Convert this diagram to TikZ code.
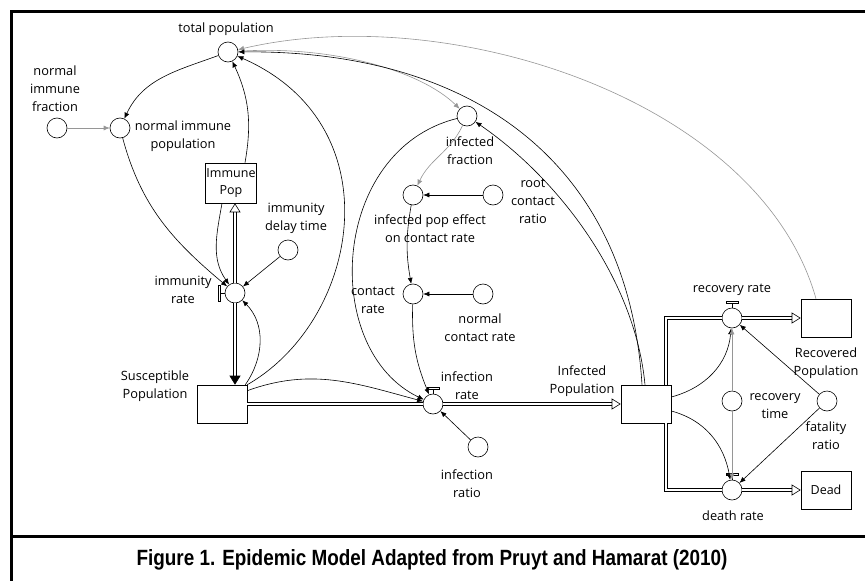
\documentclass[tikz,border=0pt]{standalone}
\usepackage{fontspec}
\setmainfont{Open Sans}
\newfontfamily\capfont{Liberation Sans}
\usetikzlibrary{arrows.meta,positioning}
\definecolor{LinkGray}{RGB}{150,150,150}
\tikzset{
  aux/.style={circle,draw,minimum size=20pt,inner sep=0pt,line width=.6pt},
  stock/.style={rectangle,draw,minimum width=50pt,minimum height=38pt,inner sep=1pt,line width=.6pt,align=center,font=\fontsize{12.5}{17}\selectfont},
  lbl/.style={align=center,inner sep=0pt,font=\fontsize{12.8}{18}\selectfont},
  link/.style={-{Latex[length=6pt,width=5pt]},line width=.6pt},
  glink/.style={link,LinkGray},
  flow/.style={draw,double,double distance=2pt,line width=.6pt},
  outflow/.style={flow,-{Triangle[open,length=9pt,width=11pt]}},
  valvebar/.style={fill=white,draw,line width=.5pt}
}
\begin{document}
\begin{tikzpicture}[x=1pt,y=-1pt]
\useasboundingbox (0,0) rectangle (865,581);
% frame and caption
\draw[line width=3pt] (11,581)--(11,11)--(865,11);
\draw[line width=3pt] (11,536.5)--(865,536.5);
\node (caption) at (432,560) {\scalebox{0.9}[1.05]{\capfont\bfseries\fontsize{21}{24}\selectfont Figure 1. Epidemic Model Adapted from Pruyt and Hamarat (2010)}};
% stocks
\node[stock,minimum width=46pt,minimum height=40pt] (immpop) at (231,183) {Immune\\Pop};
\node[stock] (susc) at (222,404) {};
\node[stock] (infpop) at (646,404) {};
\node[stock] (recpop) at (826,318) {};
\node[stock] (dead) at (826,490) {Dead};
% auxiliaries and rates
\node[aux] (totpop) at (228,52) {};
\node[aux] (nifrac) at (57,128) {};
\node[aux] (nipop) at (120,128) {};
\node[aux] (immrate) at (235,293) {};
\node[aux] (imdelay) at (288,250) {};
\node[aux] (infrate) at (433,404) {};
\node[aux] (infratio) at (478,447) {};
\node[aux] (inffrac) at (467,116) {};
\node[aux] (ipeffect) at (413,195) {};
\node[aux] (rootcr) at (493,195) {};
\node[aux] (contrate) at (413,294) {};
\node[aux] (normcr) at (483,294) {};
\node[aux] (recrate) at (732,318) {};
\node[aux] (rectime) at (732,401) {};
\node[aux] (fatal) at (827,401) {};
\node[aux] (deathrate) at (732,490) {};
% labels
\node[lbl] (l-totpop) at (226,29) {total population};
\node[lbl] (l-nifrac) at (55,89) {normal\\immune\\fraction};
\node[lbl] (l-nipop) at (183,136) {normal immune\\population};
\node[lbl] (l-immrate) at (183,290) {immunity\\rate};
\node[lbl] (l-imdelay) at (296,218) {immunity\\delay time};
\node[lbl] (l-susc) at (155,386) {Susceptible\\Population};
\node[lbl] (l-infrate) at (467,386) {infection\\rate};
\node[lbl] (l-infratio) at (467,484) {infection\\ratio};
\node[lbl] (l-infpop) at (582,381) {Infected\\Population};
\node[lbl] (l-inffrac) at (470,151) {infected\\fraction};
\node[lbl] (l-ipeffect) at (430,229) {infected pop effect\\on contact rate};
\node[lbl] (l-rootcr) at (533,201) {root\\contact\\ratio};
\node[lbl] (l-contrate) at (373,300) {contact\\rate};
\node[lbl] (l-normcr) at (480,328) {normal\\contact rate};
\node[lbl] (l-recrate) at (732,290) {recovery rate};
\node[lbl] (l-recpop) at (826,363) {Recovered\\Population};
\node[lbl] (l-rectime) at (775,406) {recovery\\time};
\node[lbl] (l-fatal) at (826,436) {fatality\\ratio};
\node[lbl] (l-deathrate) at (733,516) {death rate};
% flows
\draw[flow,-{Triangle[open,length=9pt,width=11pt]}] (immrate.north)--(immrate.north |- immpop.south);
\draw[flow,-{Triangle[length=9pt,width=11pt]}] (immrate.south)--(immrate.south |- susc.north);
\draw[flow] (susc)--(infrate);
\draw[outflow] (infrate)--(infpop);
\draw[flow] ([xshift=20pt]infpop.north) |- (recrate);
\draw[outflow] (recrate)--(recpop);
\draw[flow] ([xshift=20pt]infpop.south) |- (deathrate);
\draw[outflow] (deathrate)--(dead);
% valves
\foreach \r in {infrate,recrate,deathrate}{
  \draw[line width=.6pt] (\r.north)--([yshift=4pt]\r.north);
  \draw[valvebar] ([xshift=-6pt,yshift=4pt]\r.north) rectangle ([xshift=6pt,yshift=6.5pt]\r.north);}
\draw[line width=.6pt] (immrate.west)--([xshift=-4pt]immrate.west);
\draw[valvebar] ([xshift=-4pt,yshift=-8pt]immrate.west) rectangle ([xshift=-6.5pt,yshift=8pt]immrate.west);
% links
\draw[link] (totpop) to[out=200,in=65] (nipop);
\draw[glink] (nifrac)--(nipop);
\draw[link] (nipop) to[out=-75,in=140] (immrate);
\draw[link] ([xshift=14pt]immpop.north) to[out=80,in=-65] (totpop);
\draw[link] ([xshift=-9pt]immpop.south) to[out=-100,in=125] (immrate);
\draw[link] (imdelay)--(immrate);
\draw[link] ([xshift=-2pt]susc.north east) to[out=55,in=-45] (immrate);
\draw[link] (susc.north east) .. controls (360,320) and (395,125) .. (totpop);
\draw[link] ([yshift=-6pt]susc.north east) to[out=20,in=165] (infrate);
\draw[glink] (totpop) .. controls (330,45) and (420,70) .. (inffrac);
\draw[glink] ([xshift=-10pt]recpop.north) .. controls (760,100) and (450,0) .. (totpop);
\draw[link] ([xshift=-4pt]infpop.north) .. controls (628,160) and (470,50) .. (totpop);
\draw[link] ([xshift=-1pt]infpop.north) .. controls (635,280) and (560,180) .. (inffrac);
\draw[glink] (inffrac) to[out=-115,in=65] (ipeffect);
\draw[link] (rootcr)--(ipeffect);
\draw[link] (ipeffect) to[bend right=10] (contrate);
\draw[link] (normcr)--(contrate);
\draw[link] (contrate) to[bend right=12] (infrate);
\draw[link] (inffrac) .. controls (330,150) and (320,350) .. (infrate);
\draw[link] (infratio)--(infrate);
\draw[link] ([yshift=7pt]infpop.east) to[out=15,in=-95] (recrate);
\draw[link] ([yshift=-7pt]infpop.east) to[out=-15,in=100] (deathrate);
\draw[glink] (rectime)--(recrate);
\draw[glink] (rectime)--(deathrate);
\draw[link] (fatal)--(recrate);
\draw[link] (fatal)--(deathrate);
\end{tikzpicture}
\end{document}
